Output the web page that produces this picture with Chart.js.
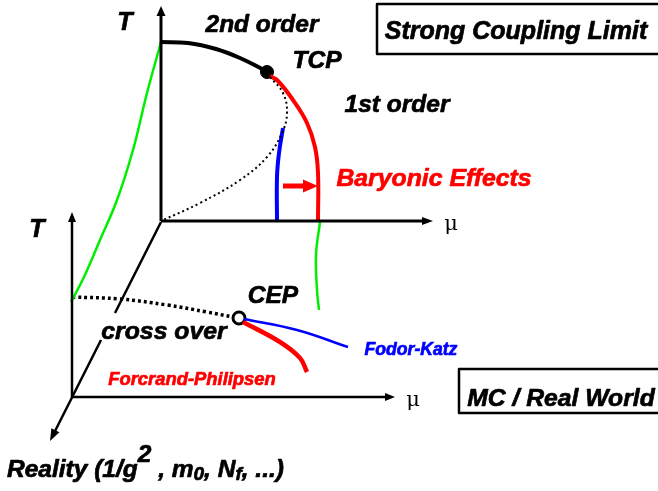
<!DOCTYPE html>
<html>
<head>
<meta charset="utf-8">
<script src="https://cdn.jsdelivr.net/npm/chart.js@4"></script>
<style>
  html, body { margin: 0; padding: 0; background: #fff; }
  canvas { display: block; }
</style>
</head>
<body>
<canvas id="phase" width="658" height="491"></canvas>
<script>
// curves, in picture units (x to the right, y downwards)
const secondOrder = [[161, 42], [188, 43], [216, 49], [240, 58], [262, 69], [267, 72]];
const firstOrder = [[270, 76], [278, 81], [293, 100], [307, 123], [315, 147], [318, 173], [318, 221]];
const spinodal = [[270, 77], [283, 93], [287, 113], [282, 133], [267, 157], [240, 180], [200, 203], [161, 221]];
const blueUpper = [[283, 128], [279, 153], [277, 177], [277, 221]];
const greenLeft = [[161, 42], [147, 93], [133, 150], [117, 200], [100, 240], [84, 277], [71, 302]];
const greenRight = [[320, 222], [316, 255], [317, 290], [319, 310]];
const crossOver = [[72, 297], [120, 299], [167, 305], [207, 312], [233, 317]];
const fodorKatz = [[244, 319], [297, 330], [348, 347]];
const forcrand = [[243, 322], [280, 342], [300, 358], [307, 372]];

// axes (last point = arrow tip)
const upperT = [[161, 221], [161, 6]];
const upperMu = [[161, 221], [433, 221]];
const lowerT = [[72, 397], [72, 212]];
const lowerMu = [[72, 397], [395, 397]];
const diagTop = [[161, 222], [115, 313]];
const diagBottom = [[101, 340], [50, 441]];
const baryon = [[283, 186], [318, 186]];

// special points
const tcp = [[267, 72]];
const cep = [[239, 318]];

const pts = arr => arr.map(p => ({ x: p[0], y: p[1] }));

function line(data, color, width, dash) {
  return {
    data: pts(data),
    showLine: true,
    borderColor: color,
    borderWidth: width,
    borderDash: dash || [],
    pointRadius: 0,
    tension: 0.4,
    fill: false
  };
}

// line whose last point carries an arrow head; the shaft stops inside the head
function arrowLine(data, color, width, len, half) {
  const ds = line(data, color, width);
  const n = data.length;
  const [x0, y0] = data[n - 2], [x1, y1] = data[n - 1];
  const d = Math.hypot(x1 - x0, y1 - y0);
  const k = (len * 0.7) / d;
  ds.data[n - 1] = { x: x1 - (x1 - x0) * k, y: y1 - (y1 - y0) * k };
  ds.arrow = { from: data[n - 2], tip: data[n - 1], len: len, half: half };
  return ds;
}

const labels = [
  { text: 'T', x: 125, y: 23, size: 25, color: '#000' },
  { text: '2nd order', x: 262, y: 25, size: 24.5, color: '#000' },
  { text: 'TCP', x: 317, y: 61, size: 24.5, color: '#000' },
  { text: '1st order', x: 397, y: 105, size: 24.5, color: '#000' },
  { text: 'Baryonic Effects', x: 434, y: 179, size: 24.8, color: '#ff0000' },
  { text: 'Strong Coupling Limit', x: 516, y: 32, size: 25, color: '#000' },
  { text: 'T', x: 37, y: 230, size: 25, color: '#000' },
  { text: 'CEP', x: 273, y: 296, size: 24.5, color: '#000' },
  { text: 'cross over', x: 164, y: 332, size: 24.8, color: '#000' },
  { text: 'Fodor-Katz', x: 411, y: 350, size: 17.6, color: '#0000ff' },
  { text: 'Forcrand-Philipsen', x: 192, y: 380, size: 18.4, color: '#ff0000' },
  { text: 'MC / Real World', x: 561, y: 399, size: 24.7, color: '#000' }
];
const boxes = [[377, 4, 290, 50], [459, 369, 210, 44]];

const decor = {
  id: 'decor',
  afterDatasetsDraw(chart) {
    const ctx = chart.ctx;
    const sx = chart.scales.x, sy = chart.scales.y;
    const X = v => sx.getPixelForValue(v), Y = v => sy.getPixelForValue(v);
    ctx.save();

    // arrow heads
    chart.data.datasets.forEach(ds => {
      if (!ds.arrow) return;
      const a = ds.arrow;
      const tx = X(a.tip[0]), ty = Y(a.tip[1]);
      const fx = X(a.from[0]), fy = Y(a.from[1]);
      const d = Math.hypot(tx - fx, ty - fy);
      const ux = (tx - fx) / d, uy = (ty - fy) / d;
      const bx = tx - ux * a.len, by = ty - uy * a.len;
      ctx.beginPath();
      ctx.moveTo(tx, ty);
      ctx.lineTo(bx - uy * a.half, by + ux * a.half);
      ctx.lineTo(bx + uy * a.half, by - ux * a.half);
      ctx.closePath();
      ctx.fillStyle = ds.borderColor;
      ctx.fill();
    });

    ctx.textAlign = 'center';
    ctx.textBaseline = 'middle';
    ctx.lineWidth = 0.7;
    ctx.lineJoin = 'round';
    labels.forEach(l => {
      ctx.font = 'italic bold ' + l.size + 'px "Liberation Sans", Arial, sans-serif';
      ctx.fillStyle = l.color;
      ctx.strokeStyle = l.color;
      ctx.fillText(l.text, X(l.x), Y(l.y));
      ctx.strokeText(l.text, X(l.x), Y(l.y));
    });
    ctx.strokeStyle = '#000';
    ctx.lineWidth = 2.5;
    boxes.forEach(b => ctx.strokeRect(X(b[0]), Y(b[1]), b[2], b[3]));

    // mu labels
    ctx.font = '21px "DejaVu Serif", serif';
    ctx.fillStyle = '#000';
    ctx.fillText('\u03bc', X(451), Y(225));
    ctx.fillText('\u03bc', X(413), Y(401));

    // reality axis label with super/subscripts
    const parts = [
      ['Reality (1/g', 0, 24.5], ['2', -15, 24.5], [' , m', 0, 24.5], ['0', 5, 19],
      [', N', 0, 24.5], ['f', 5, 19], [', ...)', 0, 24.5]
    ];
    ctx.textAlign = 'left';
    ctx.lineWidth = 0.7;
    let cx = X(7);
    parts.forEach(p => {
      ctx.font = 'italic bold ' + p[2] + 'px "Liberation Sans", Arial, sans-serif';
      ctx.fillText(p[0], cx, Y(470) + p[1]);
      ctx.strokeText(p[0], cx, Y(470) + p[1]);
      cx += ctx.measureText(p[0]).width;
    });
    ctx.restore();
  }
};

new Chart(document.getElementById('phase'), {
  type: 'scatter',
  data: {
    datasets: [
      arrowLine(upperT, '#000', 3, 10, 4.5),
      arrowLine(upperMu, '#000', 3, 11, 4),
      arrowLine(lowerT, '#000', 2.5, 10, 4),
      arrowLine(lowerMu, '#000', 2.5, 10, 4),
      line(diagTop, '#000', 2.5),
      arrowLine(diagBottom, '#000', 2.5, 12, 4.5),
      line(greenLeft, '#00ee00', 2.5),
      line(greenRight, '#00ee00', 2.5),
      line(spinodal, '#000', 2, [2, 3]),
      line(secondOrder, '#000', 4),
      line(firstOrder, '#ff0000', 4),
      line(blueUpper, '#0000ff', 4),
      arrowLine(baryon, '#ff0000', 5, 15, 6.5),
      line(crossOver, '#000', 3.5, [3, 3]),
      line(fodorKatz, '#0000ff', 2.5),
      line(forcrand, '#ff0000', 4.5),
      { data: pts(tcp), pointRadius: 6.5, backgroundColor: '#000', borderColor: '#000', borderWidth: 1 },
      { data: pts(cep), pointRadius: 6, backgroundColor: '#fff', borderColor: '#000', borderWidth: 3 }
    ]
  },
  options: {
    responsive: false,
    animation: false,
    layout: { padding: 0, autoPadding: false },
    plugins: { legend: { display: false }, tooltip: { enabled: false } },
    scales: {
      x: { type: 'linear', min: 0, max: 658, display: false },
      y: { type: 'linear', min: 0, max: 491, reverse: true, display: false }
    }
  },
  plugins: [decor]
});
</script>
</body>
</html>
